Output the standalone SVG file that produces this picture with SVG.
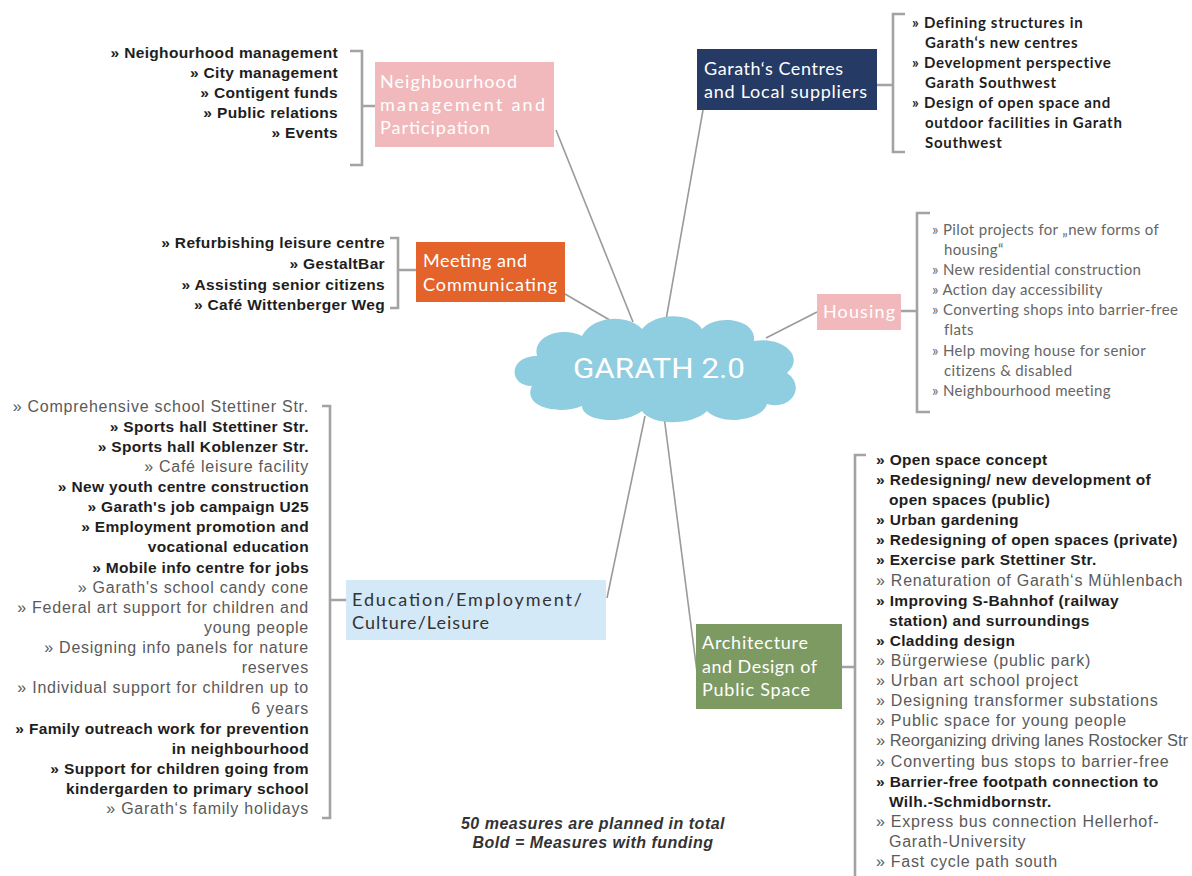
<svg xmlns="http://www.w3.org/2000/svg" width="1192" height="876" viewBox="0 0 1192 876">
<style>
.conn{stroke:#9a9a9a;stroke-width:1.6;fill:none}
.brk{stroke:#a3a3a3;stroke-width:2.6;fill:none}
.lb{font-family:"Liberation Sans",Arial,sans-serif;font-size:15.5px;font-weight:bold;fill:#1e1e1e;letter-spacing:0.35px}
.lr{font-family:"Liberation Sans",Arial,sans-serif;font-size:16px;fill:#5a5a5a;letter-spacing:0.75px}
.end{text-anchor:end}
.cb{font-family:Lato,"Open Sans",sans-serif;font-size:15px;font-weight:bold;fill:#1e1e1e;letter-spacing:0.7px}
.cr{font-family:Lato,"Open Sans",sans-serif;font-size:15px;fill:#666;letter-spacing:0.35px}
.bt{font-family:Lato,"Open Sans",sans-serif;font-size:18px;fill:#fff}
.note{font-family:"Liberation Sans",Arial,sans-serif;font-size:16px;font-weight:bold;font-style:italic;fill:#333;text-anchor:middle;letter-spacing:0.5px}
</style>
<rect width="1192" height="876" fill="#fff"/>
<g id="connectors">
<path class="conn" d="M556,130 L633,322"/>
<path class="conn" d="M703,110 L666,320"/>
<path class="conn" d="M565,294 L620,326"/>
<path class="conn" d="M817,312 L766,338"/>
<path class="conn" d="M607,598 L645,416"/>
<path class="conn" d="M664,416 L697,672"/>
<path class="brk" d="M350,51 H362 V165 H350 M362,106 H375"/>
<path class="brk" d="M905,14 H893 V152 H905 M877,85 H893"/>
<path class="brk" d="M390,238 H398 V308 H390 M398,270 H416"/>
<path class="brk" d="M930,213 H917 V412 H930 M901,311 H917"/>
<path class="brk" d="M322,406 H330 V818 H322 M330,600 H346"/>
<path class="brk" d="M866,455 H855 V876 M842,667 H855"/>
</g>
<g id="cloud">
<path d="M532,386 C508,386 508,356 537,356 C532,336 562,326 582,336 C592,316 627,313 642,329 C657,311 692,313 702,329 C717,313 757,319 754,341 C782,336 806,356 787,373 C806,386 792,411 767,404 C762,421 722,426 707,411 C692,426 652,426 642,411 C622,426 582,421 582,406 C557,416 522,406 532,386 Z" fill="#8fcde0"/>
<text x="573" y="378" font-family="Roboto,sans-serif" font-size="28" fill="#fff" textLength="172" lengthAdjust="spacingAndGlyphs">GARATH 2.0</text>
</g>
<g id="neighbourhood">
<rect x="375" y="62" width="179" height="85" fill="#f1b9bc"/>
<text class="bt" x="380" y="88" textLength="137">Neighbourhood</text>
<text class="bt" x="380" y="111" textLength="165">management and</text>
<text class="bt" x="380" y="134" textLength="110">Participation</text>
<g class="lb end">
<text x="338" y="58">» Neighourhood  management</text>
<text x="338" y="78">» City management</text>
<text x="338" y="98">» Contigent funds</text>
<text x="338" y="118">» Public relations</text>
<text x="338" y="138">» Events</text>
</g>
</g>
<g id="centres">
<rect x="697" y="49" width="180" height="61" fill="#253a64"/>
<text class="bt" x="704" y="75" textLength="139">Garath‘s Centres</text>
<text class="bt" x="704" y="98" textLength="163">and Local suppliers</text>
<g class="cb">
<text x="912" y="28">» Defining structures in</text>
<text x="925" y="48">Garath‘s new centres</text>
<text x="912" y="68">» Development perspective</text>
<text x="925" y="88">Garath Southwest</text>
<text x="912" y="108">» Design of open space and</text>
<text x="925" y="128">outdoor facilities in Garath</text>
<text x="925" y="148">Southwest</text>
</g>
</g>
<g id="meeting">
<rect x="416" y="242" width="149" height="60" fill="#e3632b"/>
<text class="bt" x="423" y="267" textLength="104">Meeting and</text>
<text class="bt" x="423" y="291" textLength="134">Communicating</text>
<g class="lb end">
<text x="385" y="248">» Refurbishing leisure centre</text>
<text x="385" y="269">» GestaltBar</text>
<text x="385" y="290">» Assisting senior citizens</text>
<text x="385" y="310">» Café Wittenberger Weg</text>
</g>
</g>
<g id="housing">
<rect x="817" y="294" width="84" height="36" fill="#f1b9bc"/>
<text class="bt" x="823" y="318" textLength="72">Housing</text>
<g class="cr">
<text x="932" y="235">» Pilot projects for „new forms of</text>
<text x="944" y="255">housing“</text>
<text x="932" y="275">» New residential construction</text>
<text x="932" y="295">» Action day accessibility</text>
<text x="932" y="315">» Converting shops into barrier-free</text>
<text x="944" y="335">flats</text>
<text x="932" y="356">» Help moving house for senior</text>
<text x="944" y="376">citizens &amp; disabled</text>
<text x="932" y="396">» Neighbourhood meeting</text>
</g>
</g>
<g id="education">
<rect x="346" y="580" width="260" height="60" fill="#d3e9f7"/>
<text class="bt" x="352" y="606" style="fill:#333" textLength="230">Education/Employment/</text>
<text class="bt" x="352" y="629" style="fill:#333" textLength="137">Culture/Leisure</text>
<text class="lr end" x="309" y="412">» Comprehensive school Stettiner Str.</text>
<text class="lb end" x="309" y="432">» Sports hall Stettiner Str.</text>
<text class="lb end" x="309" y="452">» Sports hall Koblenzer Str.</text>
<text class="lr end" x="309" y="472">» Café leisure facility</text>
<text class="lb end" x="309" y="492">» New youth centre construction</text>
<text class="lb end" x="309" y="512">» Garath's job campaign U25</text>
<text class="lb end" x="309" y="532">» Employment promotion and</text>
<text class="lb end" x="309" y="552">vocational education</text>
<text class="lb end" x="309" y="573">» Mobile info centre for jobs</text>
<text class="lr end" x="309" y="593">» Garath's school candy cone</text>
<text class="lr end" x="309" y="613">» Federal art support for children and</text>
<text class="lr end" x="309" y="633">young people</text>
<text class="lr end" x="309" y="653">» Designing info panels for nature</text>
<text class="lr end" x="309" y="673">reserves</text>
<text class="lr end" x="309" y="693">» Individual support for children up to</text>
<text class="lr end" x="309" y="714">6 years</text>
<text class="lb end" x="309" y="734">» Family outreach work for prevention</text>
<text class="lb end" x="309" y="754">in neighbourhood</text>
<text class="lb end" x="309" y="774">» Support for children going from</text>
<text class="lb end" x="309" y="794">kindergarden  to primary school</text>
<text class="lr end" x="309" y="814">» Garath‘s family holidays</text>
</g>
<g id="architecture">
<rect x="696" y="624" width="146" height="85" fill="#7d9a63"/>
<text class="bt" x="702" y="649" textLength="106">Architecture</text>
<text class="bt" x="702" y="673" textLength="115">and Design of</text>
<text class="bt" x="702" y="696" textLength="108">Public Space</text>
<text class="lb" x="876" y="465">» Open space concept</text>
<text class="lb" x="876" y="485">» Redesigning/  new development of</text>
<text class="lb" x="889" y="505">open spaces (public)</text>
<text class="lb" x="876" y="525">» Urban gardening</text>
<text class="lb" x="876" y="545">» Redesigning of open spaces (private)</text>
<text class="lb" x="876" y="565">» Exercise park Stettiner Str.</text>
<text class="lr" x="876" y="586">» Renaturation of Garath‘s Mühlenbach</text>
<text class="lb" x="876" y="606">» Improving S-Bahnhof (railway</text>
<text class="lb" x="889" y="626">station) and surroundings</text>
<text class="lb" x="876" y="646">» Cladding design</text>
<text class="lr" x="876" y="666">» Bürgerwiese (public park)</text>
<text class="lr" x="876" y="686">» Urban art school project</text>
<text class="lr" x="876" y="706">» Designing transformer substations</text>
<text class="lr" x="876" y="726">» Public space for young people</text>
<text class="lr" x="876" y="746" style="letter-spacing:0" textLength="312" lengthAdjust="spacingAndGlyphs">» Reorganizing driving lanes Rostocker Str</text>
<text class="lr" x="876" y="767">» Converting bus stops to barrier-free</text>
<text class="lb" x="876" y="787">» Barrier-free footpath connection to</text>
<text class="lb" x="889" y="807">Wilh.-Schmidbornstr.</text>
<text class="lr" x="876" y="827">» Express bus connection Hellerhof-</text>
<text class="lr" x="889" y="847">Garath-University</text>
<text class="lr" x="876" y="867">» Fast cycle path south</text>
</g>
<g id="note">
<text class="note" x="593" y="829">50 measures are planned in total</text>
<text class="note" x="593" y="848">Bold = Measures with funding</text>
</g>
</svg>
